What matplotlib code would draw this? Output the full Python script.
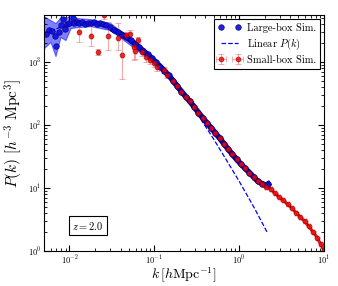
import matplotlib
matplotlib.use("Agg")
import matplotlib.pyplot as plt

plt.rcParams["font.family"] = "serif"
plt.rcParams["font.serif"] = ["cmr10"]
plt.rcParams["mathtext.fontset"] = "cm"
plt.rcParams["axes.formatter.use_mathtext"] = True
plt.rcParams["axes.unicode_minus"] = False

# large-box simulation, P(k)
lb_k = [0.00522, 0.00575, 0.0063, 0.00684, 0.00697, 0.00743, 0.00784, 0.0085,
        0.00897, 0.00947, 0.00985, 0.0109, 0.0114, 0.0121, 0.0131, 0.0142,
        0.0154, 0.0167, 0.0178, 0.0194, 0.0213, 0.0232, 0.0251, 0.0272, 0.0304,
        0.0331, 0.0372, 0.0417, 0.0468, 0.0525, 0.0589, 0.0661, 0.0741, 0.0832,
        0.0933, 0.1047, 0.1175, 0.1318, 0.148, 0.166, 0.186, 0.209, 0.234,
        0.263, 0.295, 0.331, 0.372, 0.417, 0.468, 0.525, 0.589, 0.661, 0.741,
        0.832, 0.933, 1.047, 1.175, 1.318, 1.479, 1.66, 1.862, 2.09, 2.2]
lb_p = [2780, 3220, 3100, 2585, 1780, 2960, 3865, 4760,
        3380, 3970, 4170, 5000, 4200, 4330, 4170, 4310,
        4100, 4170, 4200, 4310, 4060, 4170, 3970, 3850, 3550,
        3236, 2992, 2742, 2472, 2223, 1954, 1718, 1507, 1322,
        1153, 991, 851, 723, 614, 508, 415, 341, 284,
        237, 194, 158, 130, 108, 90.2, 74.6, 61.8, 50.7, 41.5,
        34.3, 28.6, 24.0, 20.6, 17.6, 15.0, 12.8, 11.7, 11.1, 11.6]

# scatter band of the large box at low k
band_k = [0.005, 0.00598, 0.00684, 0.00784, 0.00897, 0.0103, 0.0124, 0.0177, 0.0304, 0.0897]
band_lo = [1660, 2090, 1245, 2500, 2235, 3465, 3590, 3725, 3220, 1070]
band_hi = [5350, 4640, 4160, 5180, 5000, 5600, 5000, 4815, 4160, 1370]

# linear theory
lin_k = [0.005, 0.007, 0.01, 0.015, 0.02, 0.03, 0.04, 0.05, 0.07, 0.1,
         0.15, 0.2, 0.3, 0.38, 0.5, 0.6, 0.7, 1.0, 1.5, 2.13]
lin_p = [2900, 3400, 3900, 4200, 4200, 3600, 2880, 2340, 1620, 1000,
         570, 345, 175, 106, 60, 40, 28.5, 12.8, 4.9, 2.0]

# small-box simulation: noisy low-k points with errors
sb_low_k = [0.01285, 0.018, 0.0215, 0.0255, 0.0282, 0.037, 0.0417, 0.0469,
            0.0512, 0.057, 0.0597, 0.0635, 0.0716, 0.0805, 0.0897, 0.0982,
            0.109, 0.1286, 0.141]
sb_low_p = [3027, 2585, 1457, 5700, 2558, 2378, 1291, 2685,
            2780, 1750, 1511, 2235, 1457, 1200, 1076, 953,
            824, 746, 622]
sb_low_up = [1086, 1140, 150, 800, 1800, 1735, 1087, 300,
             400, 485, 400, 250, 200, 200, 150, 120,
             100, 80, 60]
sb_low_dn = [927, 790, 150, 800, 1008, 828, 760, 300,
             400, 674, 400, 250, 200, 200, 150, 120,
             100, 80, 60]

# small-box simulation along the curve (tiny errors)
sb_k = [0.166, 0.186, 0.209, 0.234, 0.263, 0.295, 0.331, 0.372, 0.417, 0.468,
        0.525, 0.589, 0.661, 0.741, 0.832, 0.933, 1.047, 1.175, 1.318, 1.479,
        1.66, 1.862, 2.09, 2.344, 2.63, 2.95, 3.31, 3.72, 4.17, 4.68, 5.25,
        5.89, 6.61, 7.41, 8.32, 9.12, 10.0]
sb_p = [508, 415, 341, 284, 237, 194, 158, 130, 108, 90,
        74.6, 61.8, 50.7, 41.5, 34.3, 28.6, 24.0, 20.6, 17.6, 15.0,
        12.8, 11.5, 10.4, 9.55, 8.29, 7.24, 6.36, 5.56, 4.76, 4.07, 3.48,
        2.97, 2.46, 2.02, 1.63, 1.28, 1.02]

fig = plt.figure(figsize=(3.38, 2.86), dpi=100)
ax = fig.add_axes([0.130, 0.1224, 0.8286, 0.8252])

all_k = sb_low_k + sb_k
all_p = sb_low_p + sb_p
err_dn = sb_low_dn + [0.01 * p for p in sb_p]
err_up = sb_low_up + [0.01 * p for p in sb_p]
xerr = [0.03 * k for k in all_k]

ax.plot(sb_k, sb_p, "-", color="#d01010", lw=2.2)
eb = ax.errorbar(all_k, all_p, yerr=[err_dn, err_up], xerr=xerr, fmt="o",
                 color="r", ms=3.5, mec="#800000", mew=0.5, alpha=0.8,
                 ecolor="#f07070", elinewidth=0.8, capsize=2,
                 label="Small-box Sim.")
for c in eb[2]:
    c.set_alpha(0.6)

ax.fill_between(band_k, band_lo, band_hi, color="b", alpha=0.5, lw=0.8)
ax.plot(lin_k, lin_p, "b--", lw=0.9, label="Linear $P(k)$")
ax.plot(lb_k[25:], lb_p[25:], "-", color="#0000a0", lw=4.0)
ax.plot(lb_k, lb_p, "o", color="#1010e0", ms=4.0, mec="#000080", mew=0.5,
        alpha=0.92, label="Large-box Sim.")

ax.set_xscale("log")
ax.set_yscale("log")
ax.set_xlim(5e-3, 10)
ax.set_ylim(1, 5600)
ax.set_xlabel(r"$k\,[h\mathrm{Mpc}^{-1}]$", fontsize=10, labelpad=-1)
ax.set_ylabel(r"$P(k)\ [h^{-3}\ \mathrm{Mpc}^3]$", fontsize=11, labelpad=2)
ax.tick_params(which="both", direction="in", top=True, right=True, labelsize=6, pad=2)
ax.tick_params(which="major", length=4)
ax.tick_params(which="minor", length=2)

ax.text(0.157, 0.108, r"$z=2.0$", transform=ax.transAxes, ha="center",
        va="center", fontsize=7.5,
        bbox=dict(boxstyle="square,pad=0.35", fc="white", ec="k", lw=0.8))

handles, labels = ax.get_legend_handles_labels()
order = [labels.index("Large-box Sim."), labels.index("Linear $P(k)$"),
         labels.index("Small-box Sim.")]
leg = ax.legend([handles[i] for i in order], [labels[i] for i in order],
                loc="upper right", numpoints=2, fontsize=7.5, fancybox=False,
                framealpha=1, edgecolor="k", borderaxespad=0.4,
                handlelength=2.2, handletextpad=0.6, labelspacing=0.35,
                borderpad=0.35)
leg.get_frame().set_linewidth(0.8)

fig.savefig("out.png", dpi=100)
